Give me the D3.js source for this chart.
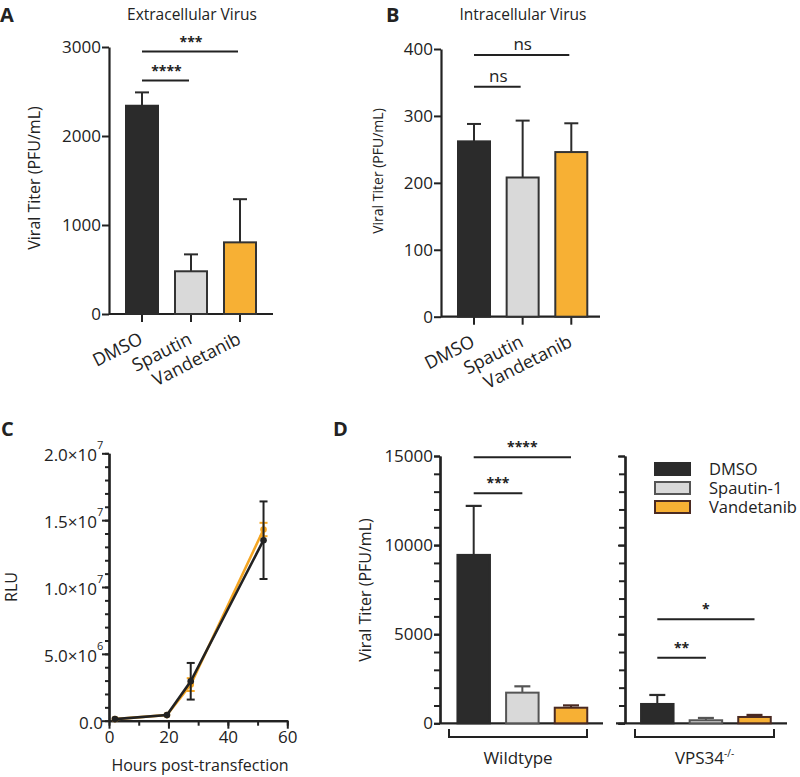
<!DOCTYPE html>
<html><head><meta charset="utf-8">
<script src="https://cdn.jsdelivr.net/npm/d3@7"></script>
<style>
body{margin:0;background:#fff;}
svg text{font-family:"Open Sans","Noto Sans",sans-serif;fill:#222;}
</style></head>
<body><svg id="c" width="800" height="777"></svg>
<script>
// ---------- data ----------
const categories = ["DMSO", "Spautin", "Vandetanib"];
const extraMean = [2340, 480, 805];
const extraSD = [150, 190, 485];
const intraMean = [262, 208, 246];
const intraSD = [26, 85, 43];

const hours = [2, 19.5, 27.5, 52];
const dmsoRLU = [1.2e5, 4.2e5, 2.95e6, 1.35e7];
const dmsoRLUsd = [0, 0, 1.37e6, 2.9e6];
const vandRLU = [1.2e5, 4.2e5, 2.7e6, 1.43e7];
const vandRLUsd = [0, 0, 4.8e5, 5e5];

const treatments = ["DMSO", "Spautin-1", "Vandetanib"];
const wtMean = [9450, 1720, 875];
const wtSD = [2750, 355, 130];
const vpsMean = [1085, 170, 355];
const vpsSD = [505, 130, 115];

const yTicksA = [0, 1000, 2000, 3000];
const yTicksB = [0, 100, 200, 300, 400];
const yTicksC = [0, 5e6, 1e7, 1.5e7, 2e7];
const yLabelsC = ["0.0", "5.0×10", "1.0×10", "1.5×10", "2.0×10"];
const yExpC = ["", "6", "7", "7", "7"];
const xTicksC = [0, 20, 40, 60];
const yTicksD = [0, 5000, 10000, 15000];

// ---------- style ----------
const FONT = "'Open Sans','Noto Sans',sans-serif";
const fills = ["#2b2b2b", "#d9d9d9", "#f7b034"];
const strokesABC = ["#2b2b2b", "#333", "#333"];
const strokesD = ["#2b2b2b", "#555", "#4a2a22"];
const ink = "#222";
const TICKFS = 17;
const svg = d3.select("#c");

function styleAxis(g) {
  g.selectAll("path,line").attr("stroke", ink).attr("stroke-width", 2);
  g.select(".domain").attr("stroke-width", 2.2);
  g.selectAll("text").attr("font-size", TICKFS).attr("fill", ink).style("font-family", FONT);
}

function barPanel(cfg) {
  const y = d3.scaleLinear().domain(cfg.ydom).range(cfg.yr);
  const x = d3.scalePoint().domain(cfg.cats).range(cfg.xr);
  const ga = svg.append("g").attr("transform", `translate(${cfg.ax},0)`)
    .call(d3.axisLeft(y).tickValues(cfg.yticks).tickSize(7).tickPadding(1).tickSizeOuter(0).tickFormat(d3.format("d")));
  styleAxis(ga);
  svg.append("line").attr("x1", cfg.ax).attr("x2", cfg.xend).attr("y1", y(0)).attr("y2", y(0))
    .attr("stroke", ink).attr("stroke-width", 2.2);
  cfg.cats.forEach(c => svg.append("line").attr("x1", x(c)).attr("x2", x(c)).attr("y1", y(0)).attr("y2", y(0) + 8)
    .attr("stroke", ink).attr("stroke-width", 2));
  const bw = 32;
  cfg.cats.forEach((c, i) => {
    const v = cfg.mean[i], e = v + cfg.sd[i];
    svg.append("line").attr("x1", x(c)).attr("x2", x(c)).attr("y1", y(v)).attr("y2", y(e)).attr("stroke", "#2b2b2b").attr("stroke-width", 2);
    svg.append("line").attr("x1", x(c) - 7).attr("x2", x(c) + 7).attr("y1", y(e)).attr("y2", y(e)).attr("stroke", "#2b2b2b").attr("stroke-width", 2);
    svg.append("rect").attr("x", x(c) - bw / 2).attr("width", bw).attr("y", y(v)).attr("height", y(0) - y(v))
      .attr("fill", fills[i]).attr("stroke", strokesABC[i]).attr("stroke-width", 2);
    svg.append("text").attr("transform", `translate(${x(c) + 2},${y(0) + 29}) rotate(-27)`)
      .attr("text-anchor", "end").attr("font-size", 18).text(c);
  });
  cfg.sig.forEach(s => {
    const x1 = x(cfg.cats[s.a]), x2 = x(cfg.cats[s.b]);
    svg.append("line").attr("x1", x1).attr("x2", x2 - 2).attr("y1", s.y).attr("y2", s.y).attr("stroke", ink).attr("stroke-width", 2);
    svg.append("text").attr("x", (x1 + x2) / 2).attr("y", s.y - 5).attr("text-anchor", "middle")
      .attr("font-size", s.fs).attr("font-weight", s.fw || "normal").text(s.t);
  });
  svg.append("text").attr("x", cfg.titleX).attr("y", 20).attr("text-anchor", "middle").attr("font-size", 15.5).text(cfg.title);
  svg.append("text").attr("transform", `translate(${cfg.labX},${cfg.labY}) rotate(-90)`)
    .attr("text-anchor", "middle").attr("font-size", cfg.labFs).text("Viral Titer (PFU/mL)");
}

barPanel({
  cats: categories, mean: extraMean, sd: extraSD, ydom: [0, 3000], yr: [314, 47], xr: [142, 240],
  ax: 109, xend: 273, yticks: yTicksA, title: "Extracellular Virus", titleX: 192, labX: 40, labY: 178, labFs: 16,
  sig: [{a: 0, b: 2, y: 51.5, t: "***", fs: 14, fw: "bold"}, {a: 0, b: 1, y: 80.5, t: "****", fs: 14, fw: "bold"}]
});
barPanel({
  cats: categories, mean: intraMean, sd: intraSD, ydom: [0, 400], yr: [316.7, 49], xr: [474, 571.3],
  ax: 441, xend: 600, yticks: yTicksB, title: "Intracellular Virus", titleX: 523, labX: 383, labY: 171, labFs: 14,
  sig: [{a: 0, b: 2, y: 55, t: "ns", fs: 17}, {a: 0, b: 1, y: 86.7, t: "ns", fs: 17}]
});

// ---------- panel C ----------
(function () {
  const x = d3.scaleLinear().domain([0, 60]).range([109, 287.3]);
  const y = d3.scaleLinear().domain([0, 2e7]).range([720.7, 453.3]);
  const gy = svg.append("g").attr("transform", "translate(109,0)")
    .call(d3.axisLeft(y).tickValues(d3.range(0, 2.0001e7, 1e6)).tickSize(4).tickFormat("").tickSizeOuter(0));
  styleAxis(gy);
  const gyM = svg.append("g").attr("transform", "translate(109,0)")
    .call(d3.axisLeft(y).tickValues(yTicksC).tickSize(7).tickFormat("").tickSizeOuter(0));
  styleAxis(gyM);
  yTicksC.forEach((v, i) => {
    svg.append("text").attr("x", yExpC[i] ? 97 : 103).attr("y", y(v) + 2).attr("dy", "0.35em")
      .attr("text-anchor", "end").attr("font-size", TICKFS).text(yLabelsC[i]);
    if (yExpC[i]) svg.append("text").attr("x", 97).attr("y", y(v) - 4).attr("font-size", 11).text(yExpC[i]);
  });
  const gx = svg.append("g").attr("transform", "translate(0,720.7)")
    .call(d3.axisBottom(x).tickValues(d3.range(0, 61, 10)).tickSize(5).tickFormat("").tickSizeOuter(0));
  styleAxis(gx);
  const gxM = svg.append("g").attr("transform", "translate(0,720.7)")
    .call(d3.axisBottom(x).tickValues(xTicksC).tickSize(8).tickPadding(2).tickSizeOuter(0));
  styleAxis(gxM);
  svg.append("text").attr("x", 200).attr("y", 771).attr("text-anchor", "middle").attr("font-size", 16).text("Hours post-transfection");
  svg.append("text").attr("transform", "translate(17,587) rotate(-90)").attr("text-anchor", "middle").attr("font-size", 16).text("RLU");
  const line = d3.line().x(d => x(d[0])).y(d => y(d[1]));
  function series(vals, sd, col) {
    const pts = hours.map((h, i) => [h, vals[i]]);
    svg.append("path").attr("d", line(pts)).attr("fill", "none").attr("stroke", col).attr("stroke-width", 2.6);
    pts.forEach((p, i) => {
      if (sd[i] > 0) {
        const cx = x(p[0]);
        svg.append("line").attr("x1", cx).attr("x2", cx).attr("y1", y(p[1] - sd[i])).attr("y2", y(p[1] + sd[i])).attr("stroke", col).attr("stroke-width", 2);
        [p[1] - sd[i], p[1] + sd[i]].forEach(v => svg.append("line").attr("x1", cx - 4).attr("x2", cx + 4).attr("y1", y(v)).attr("y2", y(v)).attr("stroke", col).attr("stroke-width", 2));
      }
      svg.append("circle").attr("cx", x(p[0])).attr("cy", y(p[1])).attr("r", 3.3).attr("fill", col);
    });
  }
  series(vandRLU, vandRLUsd, "#f5a623");
  series(dmsoRLU, dmsoRLUsd, "#222");
})();

// ---------- panel D ----------
(function () {
  const y = d3.scaleLinear().domain([0, 15000]).range([723.3, 456]);
  const minor = d3.range(0, 15001, 1000);
  [440, 625].forEach((ax, k) => {
    const g1 = svg.append("g").attr("transform", `translate(${ax},0)`)
      .call(d3.axisLeft(y).tickValues(minor).tickSize(6).tickFormat("").tickSizeOuter(0));
    styleAxis(g1);
    const g2 = svg.append("g").attr("transform", `translate(${ax},0)`)
      .call(d3.axisLeft(y).tickValues(yTicksD).tickSize(k === 0 ? 6 : 7).tickPadding(1)
        .tickFormat(k === 0 ? d3.format("d") : "").tickSizeOuter(0));
    styleAxis(g2);
  });
  svg.append("line").attr("x1", 440).attr("x2", 603).attr("y1", y(0)).attr("y2", y(0)).attr("stroke", ink).attr("stroke-width", 2.2);
  svg.append("line").attr("x1", 616).attr("x2", 787).attr("y1", y(0)).attr("y2", y(0)).attr("stroke", ink).attr("stroke-width", 2.2);
  const groups = [
    {name: "Wildtype", mean: wtMean, sd: wtSD, xr: [473.7, 571], br: [449, 587],
     sig: [{a: 0, b: 2, y: 457.3, t: "****"}, {a: 0, b: 1, y: 493.3, t: "***"}]},
    {name: "VPS34", mean: vpsMean, sd: vpsSD, xr: [657.3, 754.5], br: [635, 774],
     sig: [{a: 0, b: 2, y: 619.3, t: "*"}, {a: 0, b: 1, y: 657.7, t: "**"}]}
  ];
  const bw = 32.5;
  groups.forEach((g, gi) => {
    const x = d3.scalePoint().domain(treatments).range(g.xr);
    treatments.forEach((t, i) => {
      const v = g.mean[i], e = v + g.sd[i], cx = x(t);
      const sc = strokesD[i];
      svg.append("line").attr("x1", cx).attr("x2", cx).attr("y1", y(v)).attr("y2", y(e)).attr("stroke", sc).attr("stroke-width", 2);
      svg.append("line").attr("x1", cx - 8).attr("x2", cx + 8).attr("y1", y(e)).attr("y2", y(e)).attr("stroke", sc).attr("stroke-width", 2.2);
      svg.append("rect").attr("x", cx - bw / 2).attr("width", bw).attr("y", y(v)).attr("height", y(0) - y(v))
        .attr("fill", fills[i]).attr("stroke", sc).attr("stroke-width", 2);
    });
    const by = 737;
    svg.append("path").attr("d", `M${g.br[0]},${by - 8}V${by}H${g.br[1]}V${by - 8}`).attr("fill", "none").attr("stroke", ink).attr("stroke-width", 2);
    const tx = (g.br[0] + g.br[1]) / 2;
    const lab = svg.append("text").attr("x", tx).attr("y", 764).attr("text-anchor", "middle").attr("font-size", 17);
    lab.text(g.name);
    if (gi === 1) lab.append("tspan").attr("dy", -7).attr("font-size", 10).text("-/-");
    g.sig.forEach(s => {
      const x1 = x(treatments[s.a]), x2 = x(treatments[s.b]);
      svg.append("line").attr("x1", x1).attr("x2", x2).attr("y1", s.y).attr("y2", s.y).attr("stroke", ink).attr("stroke-width", 2);
      svg.append("text").attr("x", (x1 + x2) / 2).attr("y", s.y - 5).attr("text-anchor", "middle")
        .attr("font-size", 14).attr("font-weight", "bold").text(s.t);
    });
  });
  svg.append("text").attr("transform", "translate(371,590) rotate(-90)").attr("text-anchor", "middle").attr("font-size", 16).text("Viral Titer (PFU/mL)");
  treatments.forEach((t, i) => {
    const ly = 469 + i * 19;
    svg.append("rect").attr("x", 655).attr("y", ly - 6).attr("width", 35).attr("height", 12)
      .attr("fill", fills[i]).attr("stroke", strokesD[i]).attr("stroke-width", 2);
    svg.append("text").attr("x", 709).attr("y", ly).attr("dy", "0.35em").attr("font-size", 16.5).text(t);
  });
})();

[["A", 0, 22], ["B", 386, 22], ["C", 1, 436], ["D", 333, 436]].forEach(p =>
  svg.append("text").attr("x", p[1]).attr("y", p[2]).attr("font-size", 20).attr("font-weight", "bold").text(p[0]));
</script></body></html>
